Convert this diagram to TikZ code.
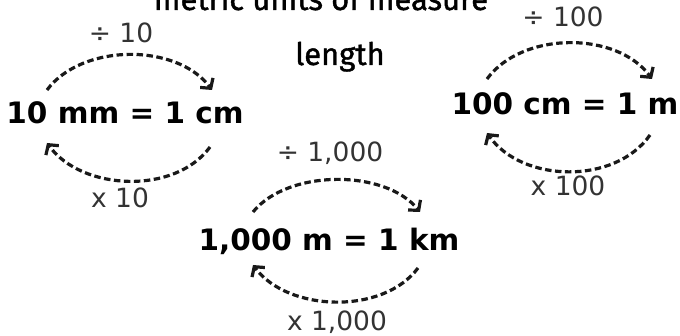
\documentclass[tikz,border=0pt]{standalone}
\usepackage{fontspec}
\setmainfont{DejaVu Sans}
\newfontfamily\handfont[FakeBold=1.3]{Fira Sans}
\usetikzlibrary{arrows.meta}
\definecolor{labgray}{HTML}{333333}
\tikzset{
  eqn/.style={inner sep=0pt, font=\fontsize{29.5}{32}\selectfont\bfseries, text=black},
  lab/.style={inner sep=0pt, font=\fontsize{26.5}{28}\selectfont, text=labgray},
  hand/.style={inner sep=0pt, font=\handfont\fontsize{31}{34}\selectfont, text=black},
  conv/.style={line width=3.2pt, dash pattern=on 6.5pt off 3.5pt, color=black!90,
    -{Straight Barb[length=7pt,width=16pt,line width=3.2pt]}},
}
\begin{document}
\begin{tikzpicture}[x=1pt,y=-1pt]
\useasboundingbox (0,0) rectangle (680,336);
\clip (0,0) rectangle (680,336);
% titles
\node[hand, anchor=base] (title) at (321,10) {metric units of measure};
\node[hand, anchor=base] (len) at (340,65) {length};
% equations
\node[eqn] (e1) at (125,113) {10 mm = 1 cm};
\node[eqn] (e2) at (329,241) {1,000 m = 1 km};
\node[eqn] (e3) at (565,104) {100 cm = 1 m};
% labels
\node[lab] (d1) at (121,33) {÷ 10};
\node[lab] (m1) at (120,198) {x 10};
\node[lab] (d2) at (330,153) {÷ 1,000};
\node[lab] (m2) at (337,322) {x 1,000};
\node[lab] (d3) at (563,17) {÷ 100};
\node[lab] (m3) at (568,186) {x 100};
% arrow ends
\coordinate (a1s) at (47,90);   \coordinate (a1e) at (212,90);
\coordinate (b1s) at (210,147); \coordinate (b1e) at (47,143);
\coordinate (a2s) at (253,212); \coordinate (a2e) at (420,212);
\coordinate (b2s) at (418,268); \coordinate (b2e) at (253,265);
\coordinate (a3s) at (487,79);  \coordinate (a3e) at (652,79);
\coordinate (b3s) at (650,135); \coordinate (b3e) at (487,133);
% arrows
\draw[conv] (a1s) .. controls +(35,-47) and +(-35,-47) .. (a1e);
\draw[conv] (b1s) .. controls +(-35,48) and +(35,48) .. (b1e);
\draw[conv] (a2s) .. controls +(35,-43) and +(-35,-43) .. (a2e);
\draw[conv] (b2s) .. controls +(-35,47) and +(35,47) .. (b2e);
\draw[conv] (a3s) .. controls +(35,-48) and +(-35,-48) .. (a3e);
\draw[conv] (b3s) .. controls +(-35,50) and +(35,50) .. (b3e);
\end{tikzpicture}
\end{document}
